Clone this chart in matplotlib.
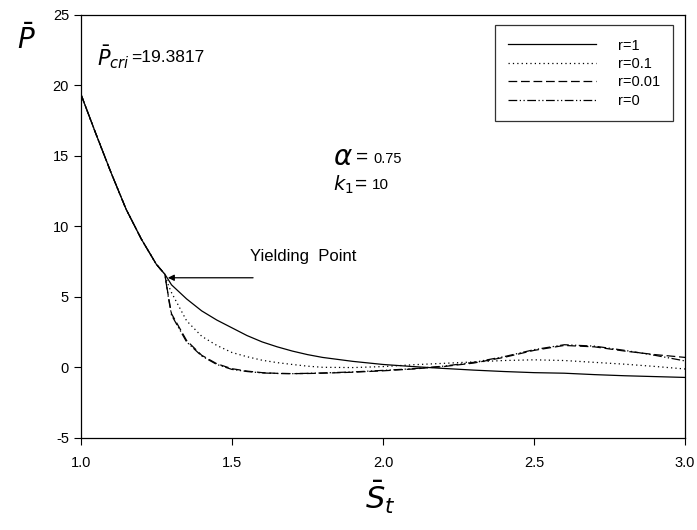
import numpy as np
import matplotlib
matplotlib.use("Agg")
import matplotlib.pyplot as plt

plt.rcParams['font.family'] = ['Liberation Sans', 'DejaVu Sans']
plt.rcParams['mathtext.fontset'] = 'dejavusans'
plt.rcParams['axes.unicode_minus'] = False

# elastic branch (shared by every r) up to the yielding point
s_pre = [1.0, 1.05, 1.10, 1.15, 1.20, 1.25, 1.278]
p_pre = [19.38, 16.55, 13.8, 11.2, 9.1, 7.3, 6.6]

# post-yield branch
s_post = [1.278, 1.29, 1.30, 1.35, 1.40, 1.45, 1.50, 1.55, 1.60, 1.65, 1.70, 1.75, 1.80,
          1.90, 2.00, 2.10, 2.20, 2.30, 2.40, 2.50, 2.60, 2.70, 2.80, 2.90, 3.00]
p_r1 = [6.6, 6.2, 5.85, 4.85, 4.0, 3.35, 2.8, 2.25, 1.8, 1.45, 1.15, 0.9, 0.7,
        0.42, 0.2, 0.05, -0.08, -0.2, -0.3, -0.38, -0.42, -0.52, -0.6, -0.66, -0.72]
p_r01 = [6.6, 5.8, 5.3, 3.3, 2.2, 1.55, 1.05, 0.75, 0.5, 0.33, 0.2, 0.08, 0.0,
         -0.02, 0.05, 0.18, 0.28, 0.38, 0.48, 0.53, 0.48, 0.35, 0.22, 0.06, -0.12]
p_r001 = [6.6, 5.0, 3.8, 1.9, 0.85, 0.25, -0.1, -0.27, -0.38, -0.43, -0.45, -0.44, -0.42,
          -0.35, -0.25, -0.12, 0.05, 0.3, 0.7, 1.2, 1.55, 1.45, 1.15, 0.9, 0.7]
p_r0 = [6.6, 4.9, 3.7, 1.8, 0.8, 0.2, -0.15, -0.3, -0.4, -0.44, -0.45, -0.43, -0.4,
        -0.33, -0.22, -0.1, 0.08, 0.35, 0.75, 1.25, 1.6, 1.5, 1.2, 0.85, 0.45]

labels = ['r=1', 'r=0.1', 'r=0.01', 'r=0']
styles = ['-', (0, (1, 2.5)), (0, (7, 3)), (0, (7, 2, 1, 2, 1, 2))]

fig = plt.figure(figsize=(6.97, 5.30), dpi=100)
ax = fig.add_axes([0.116, 0.174, 0.867, 0.798])

for p, ls, lab in zip([p_r1, p_r01, p_r001, p_r0], styles, labels):
    ax.plot(np.concatenate([s_pre, s_post[1:]]), np.concatenate([p_pre, p[1:]]),
            color='black', lw=0.9, linestyle=ls, label=lab)

ax.set_xlim(1.0, 3.0)
ax.set_ylim(-5, 25)
ax.set_xticks([1.0, 1.5, 2.0, 2.5, 3.0])
ax.set_xticklabels(['1.0', '1.5', '2.0', '2.5', '3.0'])
ax.set_yticks([-5, 0, 5, 10, 15, 20, 25])
ax.tick_params(direction='out', length=5, width=0.8, labelsize=10.5, colors='black')
ax.tick_params(axis='x', pad=8)
for sp in ax.spines.values():
    sp.set_linewidth(0.9)

ax.set_ylabel(r'$\bar{P}$', fontsize=20, rotation=0)
ax.yaxis.set_label_coords(-0.09, 0.905)
ax.set_xlabel(r'$\bar{S}_t$', fontsize=22, va='top')
ax.xaxis.set_label_coords(0.495, -0.098)

leg = ax.legend(loc='upper right', bbox_to_anchor=(0.98, 0.975), fancybox=False,
                edgecolor='black', fontsize=10.5, handlelength=6.0, handletextpad=1.5,
                labelspacing=0.3, borderpad=0.9, borderaxespad=0.0)
leg.get_frame().set_linewidth(0.9)

ax.text(1.052, 22.0, r'$\bar{P}_{cri}$', fontsize=15, va='center')
ax.text(1.168, 22.0, '=19.3817', fontsize=12.5, va='center')

ax.text(1.834, 14.85, r'$\alpha$', fontsize=20, va='center')
ax.text(1.912, 14.9, '=', fontsize=15, va='center')
ax.text(1.968, 14.75, '0.75', fontsize=10.5, va='center')
ax.text(1.834, 12.95, r'$k_1$', fontsize=14, va='center')
ax.text(1.908, 13.0, '=', fontsize=15, va='center')
ax.text(1.962, 12.95, '10', fontsize=11, va='center')

ax.annotate('', xy=(1.288, 6.35), xytext=(1.57, 6.35),
            arrowprops=dict(arrowstyle='-|>', color='black', lw=0.9,
                            mutation_scale=9, shrinkA=0, shrinkB=0))
ax.text(1.56, 7.85, 'Yielding  Point', fontsize=12, va='center')

fig.savefig('out.png', dpi=100)
